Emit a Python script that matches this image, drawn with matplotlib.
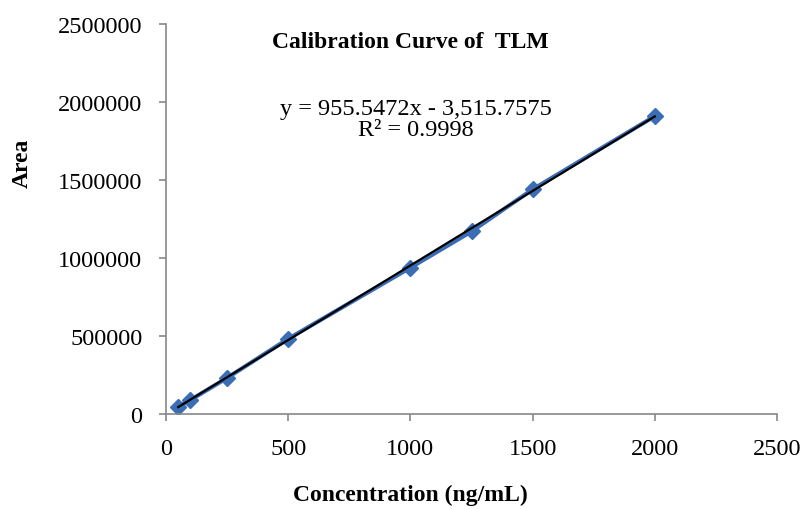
import numpy as np
import matplotlib
matplotlib.use("Agg")
import matplotlib.pyplot as plt
from matplotlib.ticker import FuncFormatter

plt.rcParams["font.family"] = ["Liberation Serif", "DejaVu Serif"]

conc = [50, 100, 250, 500, 1000, 1250, 1500, 2000]
area = [45000, 90000, 231000, 482000, 938000, 1170000, 1440000, 1909000]
slope = 955.5472
intercept = -3515.7575
r2 = 0.9998

fig = plt.figure(figsize=(8.04, 5.10), dpi=100)
ax = fig.add_axes([166 / 804, 1 - 415 / 510, 611 / 804, 390 / 510])

ax.plot(conc, area, color="#3a6db4", lw=3, marker="D", ms=8, zorder=2)
fit_x = np.array([conc[0], conc[-1]])
ax.plot(fit_x, slope * fit_x + intercept, color="black", lw=1.6, zorder=3)

ax.set_xlim(0, 2500)
ax.set_ylim(0, 2500000)
ax.set_xticks(range(0, 2501, 500))
ax.set_yticks(range(0, 2500001, 500000))
ax.yaxis.set_major_formatter(FuncFormatter(lambda v, p: f"{int(v)}"))
ax.tick_params(labelsize=17.5, color="#888888", length=5, width=1.2, direction="out")
ax.tick_params(axis="x", pad=12)
ax.tick_params(axis="y", pad=12)
for s in ["top", "right"]:
    ax.spines[s].set_visible(False)
for s in ["left", "bottom"]:
    ax.spines[s].set_color("#888888")
    ax.spines[s].set_linewidth(1.2)

fig.text(410 / 804, 1 - 42 / 510, "Calibration Curve of  TLM",
         ha="center", va="center", fontsize=17, fontweight="bold")
fig.text(416 / 804, 1 - 120 / 510, "y = 955.5472x - 3,515.7575\nR\u00b2 = 0.9998",
         ha="center", va="center", fontsize=17.5, linespacing=1.0)

fig.text(410 / 804, 1 - 495 / 510, "Concentration (ng/mL)", ha="center", va="center",
         fontsize=17, fontweight="bold")
fig.text(22 / 804, 1 - 163 / 510, "Area", ha="center", va="center", rotation=90,
         fontsize=17, fontweight="bold")

plt.savefig("out.png", dpi=100)
